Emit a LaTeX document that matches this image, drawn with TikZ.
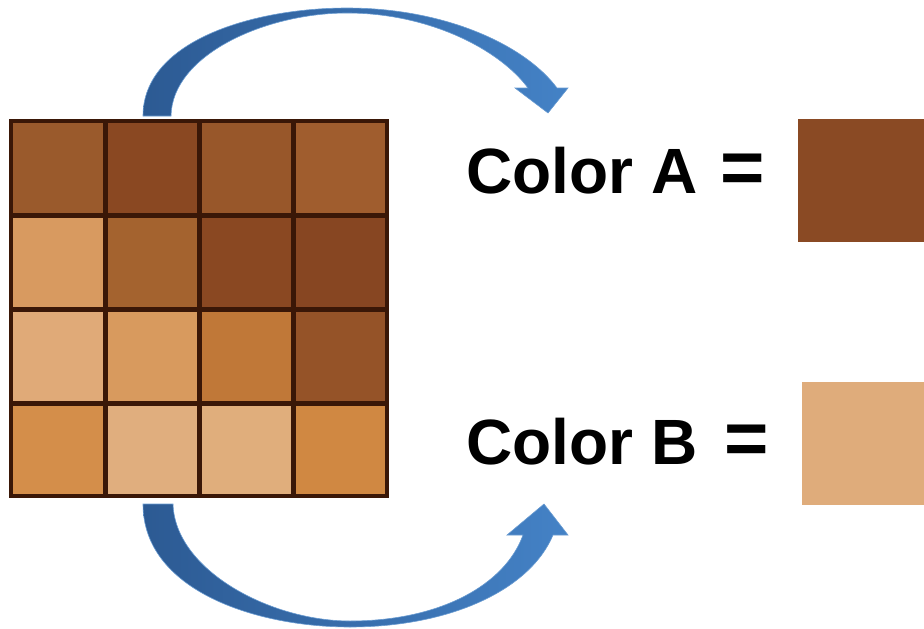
\documentclass[tikz,border=0pt]{standalone}
\usepackage{fontspec}
\setmainfont{Liberation Sans}
\usepackage{xcolor}
\definecolor{gridline}{HTML}{3A1707}
\definecolor{arrowdark}{HTML}{2C5A93}
\definecolor{arrowlight}{HTML}{4482C6}
\definecolor{colorA}{HTML}{8A4A24}
\definecolor{colorB}{HTML}{DFAC7B}
\tikzset{
  label text/.style={font=\fontsize{64}{76}\selectfont\bfseries, inner sep=0pt, anchor=base west},
  equal text/.style={font=\fontsize{76}{90}\selectfont\bfseries, inner sep=0pt, anchor=base west},
  swatch/.style={inner sep=0pt, minimum width=126pt, minimum height=123pt},
  bigarrow/.style={left color=arrowdark, right color=arrowlight, draw=arrowlight!80!white, line width=.6pt}
}

\begin{document}
\begin{tikzpicture}[x=1pt, y=-1pt]
\useasboundingbox (0,0) rectangle (924,629);
\foreach \col/\row/\clr in {0/0/9A5A2C, 1/0/8A4822, 2/0/98572A, 3/0/A05D2E,
                            0/1/D89A60, 1/1/A4632F, 2/1/8A4822, 3/1/874622,
                            0/2/E0AA78, 1/2/D89A5E, 2/2/C07838, 3/2/955328,
                            0/3/D48E4A, 1/3/E0AE7E, 2/3/E0AE7C, 3/3/D08842} {
  \definecolor{cell}{HTML}{\clr}
  \fill[cell] (11+94*\col,121+94*\row) rectangle ++(94,94);
}
\node[draw=gridline, line width=4.5pt, minimum width=376pt, minimum height=375pt, inner sep=0pt] (grid) at (199,308.5) {};
\foreach \k in {1,2,3} {
  \draw[gridline, line width=5pt] (11+94*\k,121) -- (11+94*\k,496);
  \draw[gridline, line width=5pt] (11,121+94*\k) -- (387,121+94*\k);
}
\shade[bigarrow] (143,116) .. controls (143,40) and (255,8) .. (347,8) .. controls (445,8) and (525,45) .. (557,88)
  -- (568,88) -- (548,113) -- (515,88) -- (528,88) .. controls (500,50) and (430,13) .. (347,13)
  .. controls (265,13) and (172,55) .. (171,116) -- cycle;
\shade[bigarrow] (143,504) .. controls (143,590) and (255,627) .. (350,627) .. controls (450,627) and (530,590) .. (553,535)
  -- (568,535) -- (544,504) -- (507,535) -- (523,535) .. controls (505,585) and (440,621) .. (350,621)
  .. controls (270,621) and (175,570) .. (173,504) -- cycle;
\node[label text] (colA) at (466,193) {Color A};
\node[equal text] (eqA) at (720,193) {=};
\node[label text] (colB) at (466,464) {Color B};
\node[equal text] (eqB) at (724,464) {=};
\node[swatch, fill=colorA] (swA) at (861,180.5) {};
\node[swatch, fill=colorB] (swB) at (864.5,443.5) {};
\end{tikzpicture}
\end{document}
